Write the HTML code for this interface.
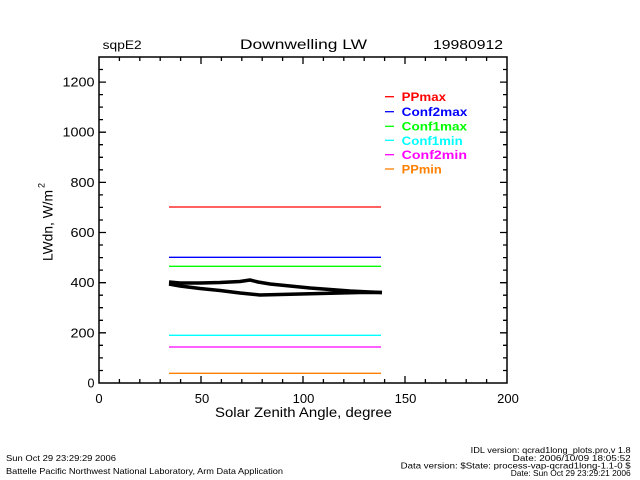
<!DOCTYPE html>
<html>
<head>
<meta charset="utf-8">
<style>
html,body{margin:0;padding:0;background:#fff;}
svg{display:block;}
text{font-family:"Liberation Sans",sans-serif;fill:#000;}
</style>
</head>
<body>
<svg width="640" height="480" viewBox="0 0 640 480" xmlns="http://www.w3.org/2000/svg">
<rect width="640" height="480" fill="#fff"/>

<!-- header -->
<text x="102.7" y="49" font-size="11.5" textLength="39" lengthAdjust="spacingAndGlyphs">sqpE2</text>
<text x="240" y="49" font-size="14" textLength="127" lengthAdjust="spacingAndGlyphs">Downwelling LW</text>
<text x="433" y="49" font-size="12.5" textLength="70" lengthAdjust="spacingAndGlyphs">19980912</text>

<!-- data lines -->
<g stroke-width="1.3" fill="none">
<line x1="169" y1="207" x2="381" y2="207" stroke="#ff0000"/>
<line x1="169" y1="257.3" x2="381" y2="257.3" stroke="#0000ff"/>
<line x1="169" y1="266.3" x2="381" y2="266.3" stroke="#00ff00"/>
<line x1="169" y1="335.3" x2="381" y2="335.3" stroke="#00ffff"/>
<line x1="169" y1="347" x2="381" y2="347" stroke="#ff00ff"/>
<line x1="169" y1="373.3" x2="381" y2="373.3" stroke="#ff7f00"/>
</g>

<!-- black data -->
<g stroke="#000" stroke-width="3.5" fill="none" stroke-linejoin="round">
<polyline points="169,282 180,283 200,283 220,282.5 240,281.5 250,280 258,282 270,284 290,286 310,288 330,289.5 350,291 370,292 382,292.5"/>
<polyline points="169,284 180,286 200,288.5 220,290.5 240,293 260,295 280,294.5 300,294 320,293.5 340,293 360,292.5 382,292.5"/>
</g>

<!-- axes box -->
<rect x="99" y="57" width="408" height="326" fill="none" stroke="#000" stroke-width="1.5"/>

<!-- ticks -->
<g stroke="#000" stroke-width="1.3">
<!-- x major bottom/top -->
<path d="M201,383v-7M303,383v-7M405,383v-7
M201,57v7M303,57v7M405,57v7"/>
<!-- x minor -->
<path d="M119.4,383v-4M139.8,383v-4M160.2,383v-4M180.6,383v-4
M221.4,383v-4M241.8,383v-4M262.2,383v-4M282.6,383v-4
M323.4,383v-4M343.8,383v-4M364.2,383v-4M384.6,383v-4
M425.4,383v-4M445.8,383v-4M466.2,383v-4M486.6,383v-4
M119.4,57v4M139.8,57v4M160.2,57v4M180.6,57v4
M221.4,57v4M241.8,57v4M262.2,57v4M282.6,57v4
M323.4,57v4M343.8,57v4M364.2,57v4M384.6,57v4
M425.4,57v4M445.8,57v4M466.2,57v4M486.6,57v4"/>
<!-- y major -->
<path d="M99,332.8h7M99,282.7h7M99,232.5h7M99,182.4h7M99,132.2h7M99,82.1h7
M507,332.8h-7M507,282.7h-7M507,232.5h-7M507,182.4h-7M507,132.2h-7M507,82.1h-7"/>
<!-- y minor -->
<path d="M99,370.5h4M99,357.9h4M99,345.3h4M99,320.3h4M99,307.7h4M99,295.2h4
M99,270.1h4M99,257.6h4M99,245h4M99,220h4M99,207.4h4M99,194.9h4
M99,169.8h4M99,157.3h4M99,144.7h4M99,119.6h4M99,107.1h4M99,94.6h4M99,69.5h4
M507,370.5h-4M507,357.9h-4M507,345.3h-4M507,320.3h-4M507,307.7h-4M507,295.2h-4
M507,270.1h-4M507,257.6h-4M507,245h-4M507,220h-4M507,207.4h-4M507,194.9h-4
M507,169.8h-4M507,157.3h-4M507,144.7h-4M507,119.6h-4M507,107.1h-4M507,94.6h-4M507,69.5h-4"/>
</g>

<!-- y tick labels -->
<g font-size="12.5" text-anchor="end">
<text x="94.5" y="387.5">0</text>
<text x="94.5" y="337.3" textLength="24" lengthAdjust="spacingAndGlyphs">200</text>
<text x="94.5" y="287.2" textLength="24" lengthAdjust="spacingAndGlyphs">400</text>
<text x="94.5" y="237" textLength="24" lengthAdjust="spacingAndGlyphs">600</text>
<text x="94.5" y="186.9" textLength="24" lengthAdjust="spacingAndGlyphs">800</text>
<text x="94.5" y="136.7" textLength="32" lengthAdjust="spacingAndGlyphs">1000</text>
<text x="94.5" y="86.6" textLength="32" lengthAdjust="spacingAndGlyphs">1200</text>
</g>

<!-- x tick labels -->
<g font-size="13" text-anchor="middle">
<text x="99" y="403">0</text>
<text x="202" y="403">50</text>
<text x="303.5" y="403">100</text>
<text x="405.5" y="403">150</text>
<text x="508" y="403">200</text>
</g>

<!-- axis titles -->
<text x="215" y="417" font-size="13.5" textLength="177" lengthAdjust="spacingAndGlyphs">Solar Zenith Angle, degree</text>
<g transform="translate(52.5,261) rotate(-90)">
<text x="0" y="0" font-size="13.5" textLength="71" lengthAdjust="spacingAndGlyphs">LWdn, W/m</text>
<text x="73" y="-8" font-size="9">2</text>
</g>

<!-- legend -->
<g stroke-width="1.3">
<line x1="385" y1="96.7" x2="394" y2="96.7" stroke="#ff0000"/>
<line x1="385" y1="111.7" x2="394" y2="111.7" stroke="#0000ff"/>
<line x1="385" y1="126.3" x2="394" y2="126.3" stroke="#00ff00"/>
<line x1="385" y1="140.3" x2="394" y2="140.3" stroke="#00ffff"/>
<line x1="385" y1="154.7" x2="394" y2="154.7" stroke="#ff00ff"/>
<line x1="385" y1="169" x2="394" y2="169" stroke="#ff7f00"/>
</g>
<g font-size="12" font-weight="bold">
<text x="401.7" y="101" fill="#ff0000" style="fill:#ff0000" textLength="44.3" lengthAdjust="spacingAndGlyphs">PPmax</text>
<text x="401.7" y="116" style="fill:#0000ff" textLength="65.6" lengthAdjust="spacingAndGlyphs">Conf2max</text>
<text x="401.7" y="130.5" style="fill:#00ff00" textLength="65.3" lengthAdjust="spacingAndGlyphs">Conf1max</text>
<text x="401.7" y="145" style="fill:#00ffff" textLength="61" lengthAdjust="spacingAndGlyphs">Conf1min</text>
<text x="401.7" y="159" style="fill:#ff00ff" textLength="65.3" lengthAdjust="spacingAndGlyphs">Conf2min</text>
<text x="401.7" y="173.5" style="fill:#ff7f00" textLength="40" lengthAdjust="spacingAndGlyphs">PPmin</text>
</g>

<!-- footer -->
<g font-size="8.5">
<text x="6" y="461" textLength="110" lengthAdjust="spacingAndGlyphs">Sun Oct 29 23:29:29 2006</text>
<text x="6" y="474" textLength="277" lengthAdjust="spacingAndGlyphs">Battelle Pacific Northwest National Laboratory, Arm Data Application</text>
<text x="470.7" y="453" textLength="160" lengthAdjust="spacingAndGlyphs">IDL version: qcrad1long_plots.pro,v 1.8</text>
<text x="512.7" y="461" textLength="118" lengthAdjust="spacingAndGlyphs">Date: 2006/10/09 18:05:52</text>
<text x="400.7" y="468.5" textLength="230" lengthAdjust="spacingAndGlyphs">Data version: $State: process-vap-qcrad1long-1.1-0 $</text>
<text x="510.7" y="476" textLength="120" lengthAdjust="spacingAndGlyphs">Date: Sun Oct 29 23:29:21 2006</text>
</g>
</svg>
</body>
</html>
